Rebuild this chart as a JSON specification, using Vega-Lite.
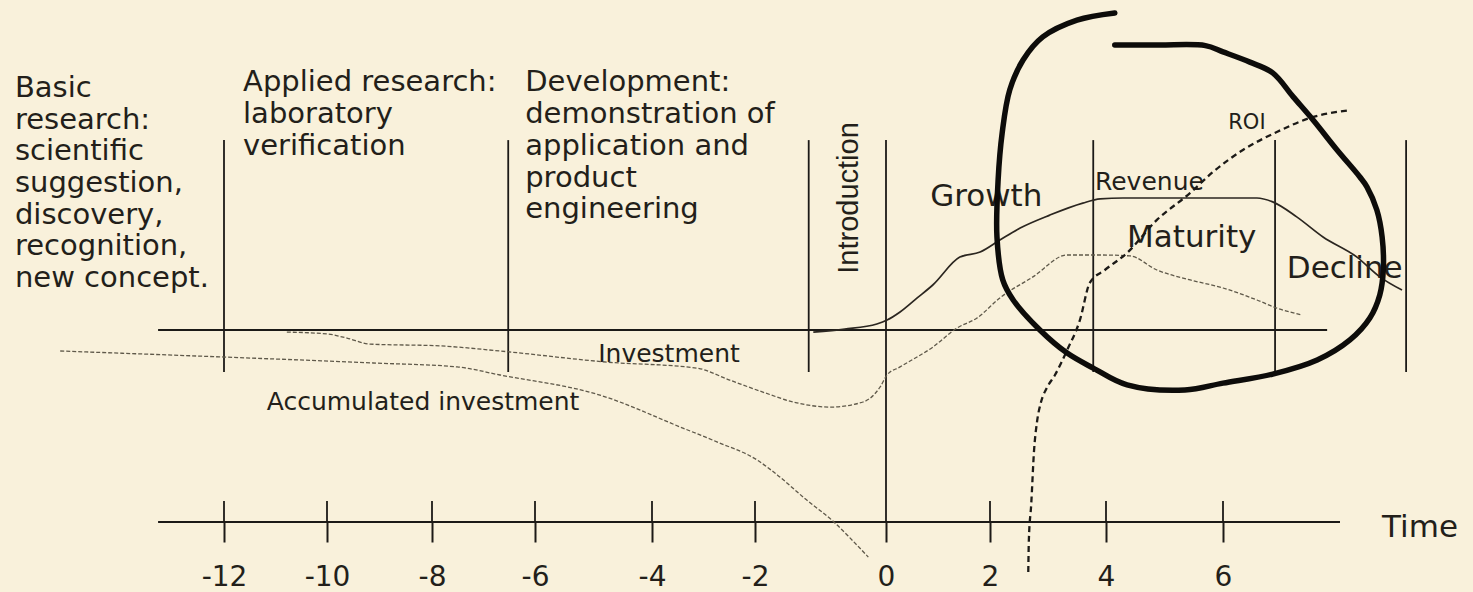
{
  "$schema": "https://vega.github.io/schema/vega-lite/v6.json",
  "width": 1473,
  "height": 592,
  "autosize": "none",
  "padding": 0,
  "background": "#F9F1DB",
  "config": {"view": {"stroke": null}},
  "datasets": {
    "rules": [
      {"x": -13.28, "x2": 7.78, "y": 0, "y2": 0},
      {"x": -13.28, "x2": 8.0, "y": -6.4, "y2": -6.4},
      {"x": -12, "x2": -12, "y": 6.33, "y2": -1.4},
      {"x": -6.52, "x2": -6.52, "y": 6.33, "y2": -1.4},
      {"x": -1.18, "x2": -1.18, "y": 6.33, "y2": -1.4},
      {"x": 0, "x2": 0, "y": 6.33, "y2": -6.4},
      {"x": 3.78, "x2": 3.78, "y": 6.33, "y2": -1.4},
      {"x": 6.89, "x2": 6.89, "y": 6.33, "y2": -1.4},
      {"x": 9.13, "x2": 9.13, "y": 6.33, "y2": -1.4},
      {"x": -12, "x2": -12, "y": -5.7, "y2": -6.4},
      {"x": -10, "x2": -10, "y": -5.7, "y2": -6.4},
      {"x": -8, "x2": -8, "y": -5.7, "y2": -6.4},
      {"x": -6, "x2": -6, "y": -5.7, "y2": -6.4},
      {"x": -4, "x2": -4, "y": -5.7, "y2": -6.4},
      {"x": -2, "x2": -2, "y": -5.7, "y2": -6.4},
      {"x": 2, "x2": 2, "y": -5.7, "y2": -6.4},
      {"x": 4, "x2": 4, "y": -5.7, "y2": -6.4},
      {"x": 6, "x2": 6, "y": -5.7, "y2": -6.4}
    ],
    "revenue": [
      {"x": -1.11, "y": -0.07}, {"x": -0.63, "y": 0.03}, {"x": -0.14, "y": 0.2},
      {"x": 0.02, "y": 0.33}, {"x": 0.27, "y": 0.6}, {"x": 0.6, "y": 1.07},
      {"x": 0.9, "y": 1.5}, {"x": 1.42, "y": 2.43}, {"x": 1.81, "y": 2.6},
      {"x": 2.17, "y": 3.0}, {"x": 2.52, "y": 3.4}, {"x": 3.03, "y": 3.83},
      {"x": 3.6, "y": 4.23}, {"x": 3.9, "y": 4.37}, {"x": 4.29, "y": 4.4},
      {"x": 5.4, "y": 4.4}, {"x": 6.58, "y": 4.4}, {"x": 6.85, "y": 4.27},
      {"x": 7.26, "y": 3.77}, {"x": 7.71, "y": 3.1}, {"x": 8.29, "y": 2.43},
      {"x": 8.68, "y": 1.77}, {"x": 9.06, "y": 1.33}
    ],
    "investment": [
      {"series": "Investment", "x": -10.78, "y": -0.07}, {"series": "Investment", "x": -10, "y": -0.13},
      {"series": "Investment", "x": -9.62, "y": -0.27}, {"series": "Investment", "x": -9.18, "y": -0.47},
      {"series": "Investment", "x": -7.84, "y": -0.53}, {"series": "Investment", "x": -6.68, "y": -0.7},
      {"series": "Investment", "x": -4.77, "y": -1.07}, {"series": "Investment", "x": -3.13, "y": -1.27},
      {"series": "Investment", "x": -2.49, "y": -1.67}, {"series": "Investment", "x": -1.88, "y": -2.07},
      {"series": "Investment", "x": -1.36, "y": -2.43}, {"series": "Investment", "x": -0.85, "y": -2.57},
      {"series": "Investment", "x": -0.35, "y": -2.4}, {"series": "Investment", "x": -0.09, "y": -1.9},
      {"series": "Investment", "x": 0.02, "y": -1.5}, {"series": "Investment", "x": 0.27, "y": -1.23},
      {"series": "Investment", "x": 0.9, "y": -0.57}, {"series": "Investment", "x": 1.37, "y": 0.07},
      {"series": "Investment", "x": 1.75, "y": 0.4}, {"series": "Investment", "x": 2.17, "y": 1.07},
      {"series": "Investment", "x": 2.74, "y": 1.77}, {"series": "Investment", "x": 3.33, "y": 2.5},
      {"series": "Investment", "x": 3.9, "y": 2.5}, {"series": "Investment", "x": 4.41, "y": 2.47},
      {"series": "Investment", "x": 4.87, "y": 2.0}, {"series": "Investment", "x": 5.44, "y": 1.67},
      {"series": "Investment", "x": 6.0, "y": 1.4}, {"series": "Investment", "x": 6.58, "y": 1.0},
      {"series": "Investment", "x": 6.92, "y": 0.73}, {"series": "Investment", "x": 7.35, "y": 0.5},
      {"series": "Accumulated", "x": -15.18, "y": -0.7}, {"series": "Accumulated", "x": -12.02, "y": -0.9},
      {"series": "Accumulated", "x": -9.12, "y": -1.1}, {"series": "Accumulated", "x": -7.51, "y": -1.23},
      {"series": "Accumulated", "x": -6.68, "y": -1.5}, {"series": "Accumulated", "x": -4.89, "y": -2.17},
      {"series": "Accumulated", "x": -3.4, "y": -3.27}, {"series": "Accumulated", "x": -2.74, "y": -3.73},
      {"series": "Accumulated", "x": -1.97, "y": -4.33}, {"series": "Accumulated", "x": -1.66, "y": -4.83},
      {"series": "Accumulated", "x": -1.21, "y": -5.67}, {"series": "Accumulated", "x": -0.81, "y": -6.37},
      {"series": "Accumulated", "x": -0.55, "y": -6.93}, {"series": "Accumulated", "x": -0.27, "y": -7.57}
    ],
    "roi": [
      {"x": 2.66, "y": -8.07}, {"x": 2.67, "y": -7.0}, {"x": 2.71, "y": -5.83},
      {"x": 2.76, "y": -4.0}, {"x": 2.81, "y": -3.07}, {"x": 2.88, "y": -2.4},
      {"x": 2.98, "y": -1.93}, {"x": 3.12, "y": -1.5}, {"x": 3.33, "y": -0.67},
      {"x": 3.55, "y": 0.33}, {"x": 3.72, "y": 1.57}, {"x": 3.98, "y": 2.0},
      {"x": 4.36, "y": 2.57}, {"x": 4.87, "y": 3.67}, {"x": 5.44, "y": 4.57},
      {"x": 5.83, "y": 5.27}, {"x": 6.34, "y": 6.0}, {"x": 6.92, "y": 6.6},
      {"x": 7.49, "y": 7.07}, {"x": 8.17, "y": 7.33}
    ],
    "circle": [
      {"i": 1, "x": 4.15, "y": 10.57}, {"i": 2, "x": 3.5, "y": 10.33}, {"i": 3, "x": 2.91, "y": 9.77},
      {"i": 4, "x": 2.57, "y": 9.0}, {"i": 5, "x": 2.34, "y": 8.0}, {"i": 6, "x": 2.21, "y": 6.57},
      {"i": 7, "x": 2.14, "y": 5.0}, {"i": 8, "x": 2.12, "y": 3.1}, {"i": 9, "x": 2.22, "y": 1.67},
      {"i": 10, "x": 2.4, "y": 1.0}, {"i": 11, "x": 2.86, "y": 0}, {"i": 12, "x": 3.33, "y": -0.77},
      {"i": 13, "x": 3.78, "y": -1.27}, {"i": 14, "x": 4.36, "y": -1.83}, {"i": 15, "x": 5.35, "y": -2.0},
      {"i": 16, "x": 6.0, "y": -1.77}, {"i": 17, "x": 6.85, "y": -1.47}, {"i": 18, "x": 7.61, "y": -1.0},
      {"i": 19, "x": 8.17, "y": -0.33}, {"i": 20, "x": 8.51, "y": 0.4}, {"i": 21, "x": 8.68, "y": 1.17},
      {"i": 22, "x": 8.74, "y": 2.0}, {"i": 23, "x": 8.72, "y": 3.1}, {"i": 24, "x": 8.63, "y": 4.0},
      {"i": 25, "x": 8.46, "y": 4.77}, {"i": 26, "x": 8.34, "y": 5.1}, {"i": 27, "x": 7.95, "y": 6.0},
      {"i": 28, "x": 7.54, "y": 7.0}, {"i": 29, "x": 7.2, "y": 7.77}, {"i": 30, "x": 6.85, "y": 8.57},
      {"i": 31, "x": 6.46, "y": 8.93}, {"i": 32, "x": 6.0, "y": 9.27}, {"i": 33, "x": 5.7, "y": 9.48},
      {"i": 34, "x": 4.9, "y": 9.5}, {"i": 35, "x": 4.15, "y": 9.5}
    ],
    "phases": [
      {"x": -16.06, "y": 7.77, "label": "Basic"},
      {"x": -16.06, "y": 6.71, "label": "research:"},
      {"x": -16.06, "y": 5.66, "label": "scientific"},
      {"x": -16.06, "y": 4.6, "label": "suggestion,"},
      {"x": -16.06, "y": 3.54, "label": "discovery,"},
      {"x": -16.06, "y": 2.49, "label": "recognition,"},
      {"x": -16.06, "y": 1.43, "label": "new concept."},
      {"x": -11.63, "y": 7.97, "label": "Applied research:"},
      {"x": -11.63, "y": 6.9, "label": "laboratory"},
      {"x": -11.63, "y": 5.83, "label": "verification"},
      {"x": -6.19, "y": 7.97, "label": "Development:"},
      {"x": -6.19, "y": 6.9, "label": "demonstration of"},
      {"x": -6.19, "y": 5.83, "label": "application and"},
      {"x": -6.19, "y": 4.77, "label": "product"},
      {"x": -6.19, "y": 3.73, "label": "engineering"}
    ],
    "stages": [
      {"x": 0.85, "y": 4.13, "label": "Growth"},
      {"x": 4.36, "y": 2.77, "label": "Maturity"},
      {"x": 7.09, "y": 1.73, "label": "Decline"},
      {"x": 8.72, "y": -6.9, "label": "Time"}
    ],
    "curveLabels": [
      {"x": -4.92, "y": -1.07, "label": "Investment"},
      {"x": -11.17, "y": -2.67, "label": "Accumulated investment"},
      {"x": 3.81, "y": 4.67, "label": "Revenue"}
    ],
    "roiLabel": [{"x": 6.09, "y": 6.7, "label": "ROI"}],
    "intro": [{"x": -0.43, "y": 4.4, "label": "Introduction"}]
  },
  "encoding": {
    "x": {
      "field": "x", "type": "quantitative",
      "scale": {
        "domain": [-12, -10, -8, -6, -4, -2, 0, 2, 4, 6],
        "range": [224, 327, 432, 535, 652, 755, 886, 990, 1106, 1223],
        "nice": false, "zero": false, "clamp": false
      },
      "axis": {
        "orient": "bottom", "offset": -70, "title": null, "domain": false, "grid": false,
        "values": [-12, -10, -8, -6, -4, -2, 0, 2, 4, 6],
        "labelExpr": "'' + datum.value",
        "ticks": true, "tickSize": 20, "tickWidth": 2, "tickColor": "#1c1a17",
        "labelFont": "DejaVu Sans", "labelFontSize": 28, "labelColor": "#231f1a",
        "labelBaseline": "alphabetic", "labelPadding": 43, "labelFlush": false, "labelOverlap": false
      }
    },
    "y": {
      "field": "y", "type": "quantitative",
      "scale": {"domain": [-8.7333, 11], "nice": false, "zero": false},
      "axis": null
    }
  },
  "layer": [
    {
      "data": {"name": "phases"},
      "mark": {"type": "text", "align": "left", "baseline": "alphabetic", "font": "DejaVu Sans", "fontSize": 29, "color": "#231f1a"},
      "encoding": {"text": {"field": "label"}}
    },
    {
      "data": {"name": "stages"},
      "mark": {"type": "text", "align": "left", "baseline": "alphabetic", "font": "DejaVu Sans", "fontSize": 31, "color": "#231f1a"},
      "encoding": {"text": {"field": "label"}}
    },
    {
      "data": {"name": "curveLabels"},
      "mark": {"type": "text", "align": "left", "baseline": "alphabetic", "font": "DejaVu Sans", "fontSize": 25, "color": "#231f1a"},
      "encoding": {"text": {"field": "label"}}
    },
    {
      "data": {"name": "roiLabel"},
      "mark": {"type": "text", "align": "left", "baseline": "alphabetic", "font": "DejaVu Sans", "fontSize": 21, "color": "#231f1a"},
      "encoding": {"text": {"field": "label"}}
    },
    {
      "data": {"name": "intro"},
      "mark": {"type": "text", "align": "center", "baseline": "alphabetic", "angle": 270, "font": "Liberation Sans", "fontSize": 29, "color": "#231f1a"},
      "encoding": {"text": {"field": "label"}}
    },
    {
      "data": {"name": "rules"},
      "mark": {"type": "rule", "color": "#1c1a17", "strokeWidth": 1.8},
      "encoding": {"x2": {"field": "x2"}, "y2": {"field": "y2"}}
    },
    {
      "data": {"name": "investment"},
      "mark": {"type": "line", "interpolate": "monotone", "color": "#5f594a", "strokeWidth": 1.3, "strokeDash": [4, 2]},
      "encoding": {"detail": {"field": "series"}}
    },
    {
      "data": {"name": "revenue"},
      "mark": {"type": "line", "interpolate": "monotone", "color": "#2b2620", "strokeWidth": 1.7},
      "encoding": {}
    },
    {
      "data": {"name": "roi"},
      "mark": {"type": "line", "interpolate": "monotone", "color": "#1c1a17", "strokeWidth": 2.3, "strokeDash": [6, 4]},
      "encoding": {}
    },
    {
      "data": {"name": "circle"},
      "mark": {"type": "line", "interpolate": "catmull-rom", "color": "#0d0c0a", "strokeWidth": 5.5, "strokeCap": "round"},
      "encoding": {"order": {"field": "i", "type": "quantitative"}}
    }
  ]
}
